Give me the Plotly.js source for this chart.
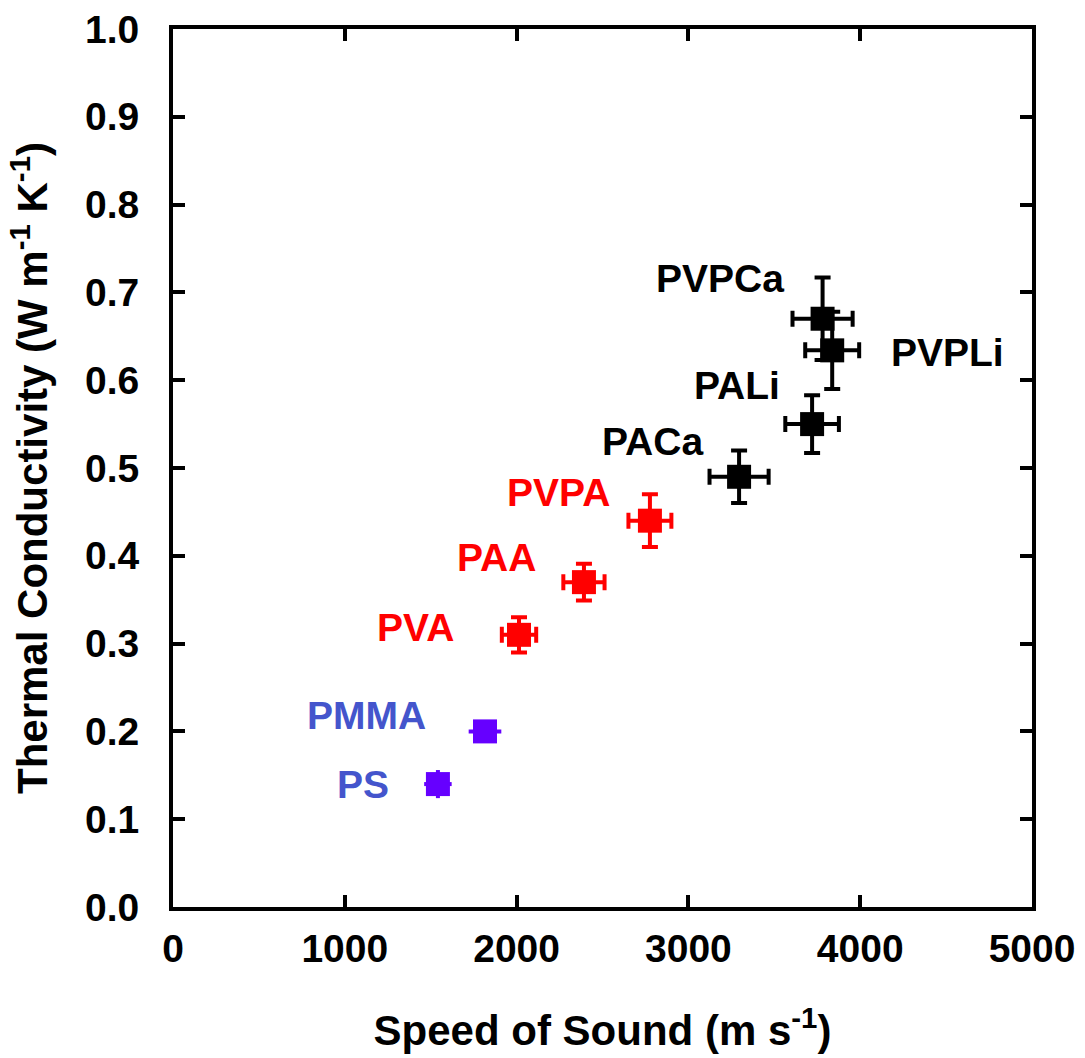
<!DOCTYPE html>
<html>
<head>
<meta charset="utf-8">
<script src="https://cdn.plot.ly/plotly-3.0.1.min.js"></script>
<style>
  html, body { margin: 0; padding: 0; background: #fff; }
  #chart { width: 1085px; height: 1058px; }
</style>
</head>
<body>
<div id="chart"></div>
<script>
// Thermal conductivity vs. speed of sound for polymers and polymer blends
const materials = ["PS", "PMMA", "PVA", "PAA", "PVPA", "PACa", "PALi", "PVPCa", "PVPLi"];
const speedOfSound = [1542, 1816, 2014, 2392, 2776, 3295, 3720, 3781, 3837];     // m s^-1
const speedErr     = [80, 95, 100, 120, 125, 172, 156, 175, 157];
const conductivity = [0.14, 0.20, 0.31, 0.37, 0.44, 0.49, 0.55, 0.67, 0.634];    // W m^-1 K^-1
const conductErr   = [0.016, 0.006, 0.02, 0.021, 0.03, 0.03, 0.033, 0.047, 0.044];
const family       = ["amorphous", "amorphous", "hbond", "hbond", "hbond", "ionic", "ionic", "ionic", "ionic"];

// Label offsets (px) from each marker
const labelDx = [-75, -118, -104, -87, -91, -87, -75, -103, 115];
const labelDy = [0, 16, 7, 25, 28, 35, 39, 40, -2];

const style = {
  amorphous: { marker: "#6600ff", label: "#4455cc", capWidth: 0, thick: 4 },
  hbond:     { marker: "#ff0000", label: "#ff0000", capWidth: 8, thick: 4 },
  ionic:     { marker: "#000000", label: "#000000", capWidth: 8, thick: 4 }
};

const FONT = "Liberation Sans, Arial, Helvetica, sans-serif";

const traces = [];
Object.keys(style).forEach(fam => {
  const idx = family.map((f, i) => f === fam ? i : -1).filter(i => i >= 0);
  const s = style[fam];
  traces.push({
    type: "scatter",
    mode: "markers",
    x: idx.map(i => speedOfSound[i]),
    y: idx.map(i => conductivity[i]),
    text: idx.map(i => materials[i]),
    marker: { symbol: "square", size: 24, color: s.marker },
    error_x: { type: "data", array: idx.map(i => speedErr[i]), visible: true,
               color: s.marker, thickness: s.thick, width: s.capWidth },
    error_y: { type: "data", array: idx.map(i => conductErr[i]), visible: true,
               color: s.marker, thickness: s.thick, width: s.capWidth },
    hoverinfo: "text+x+y",
    showlegend: false
  });
});

const annotations = materials.map((m, i) => ({
  x: speedOfSound[i],
  y: conductivity[i],
  xref: "x", yref: "y",
  text: m,
  showarrow: false,
  xanchor: "center", yanchor: "middle",
  xshift: labelDx[i], yshift: labelDy[i],
  font: { family: FONT, size: 39, weight: "bold", color: style[family[i]].label }
}));

const axisCommon = {
  showgrid: false,
  zeroline: false,
  showline: true,
  linecolor: "#000",
  linewidth: 4,
  mirror: "ticks",
  ticks: "inside",
  ticklen: 12,
  tickwidth: 4,
  tickcolor: "#000",
  tickfont: { family: FONT, size: 39, weight: "bold", color: "#000" }
};

const layout = {
  width: 1085,
  height: 1058,
  paper_bgcolor: "#fff",
  plot_bgcolor: "#fff",
  margin: { l: 173, r: 53, t: 29, b: 151 },
  xaxis: Object.assign({}, axisCommon, {
    range: [0, 5000],
    tickvals: [0, 1000, 2000, 3000, 4000, 5000],
    ticktext: ["0", "1000", "2000", "3000", "4000", "5000"],
    ticklabelstandoff: 4,
    title: { text: "Speed of Sound (m s<sup>-1</sup>)", standoff: 48,
             font: { family: FONT, size: 42, weight: "bold", color: "#000" } }
  }),
  yaxis: Object.assign({}, axisCommon, {
    range: [0, 1.0],
    tickvals: [0, 0.1, 0.2, 0.3, 0.4, 0.5, 0.6, 0.7, 0.8, 0.9, 1.0],
    ticktext: ["0.0", "0.1", "0.2", "0.3", "0.4", "0.5", "0.6", "0.7", "0.8", "0.9", "1.0"],
    ticklabelstandoff: 22,
    title: { text: "Thermal Conductivity (W m<sup>-1</sup> K<sup>-1</sup>)", standoff: 25,
             font: { family: FONT, size: 42, weight: "bold", color: "#000" } }
  }),
  annotations: annotations
};

Plotly.newPlot("chart", traces, layout, { displayModeBar: false, staticPlot: true });
</script>
</body>
</html>
